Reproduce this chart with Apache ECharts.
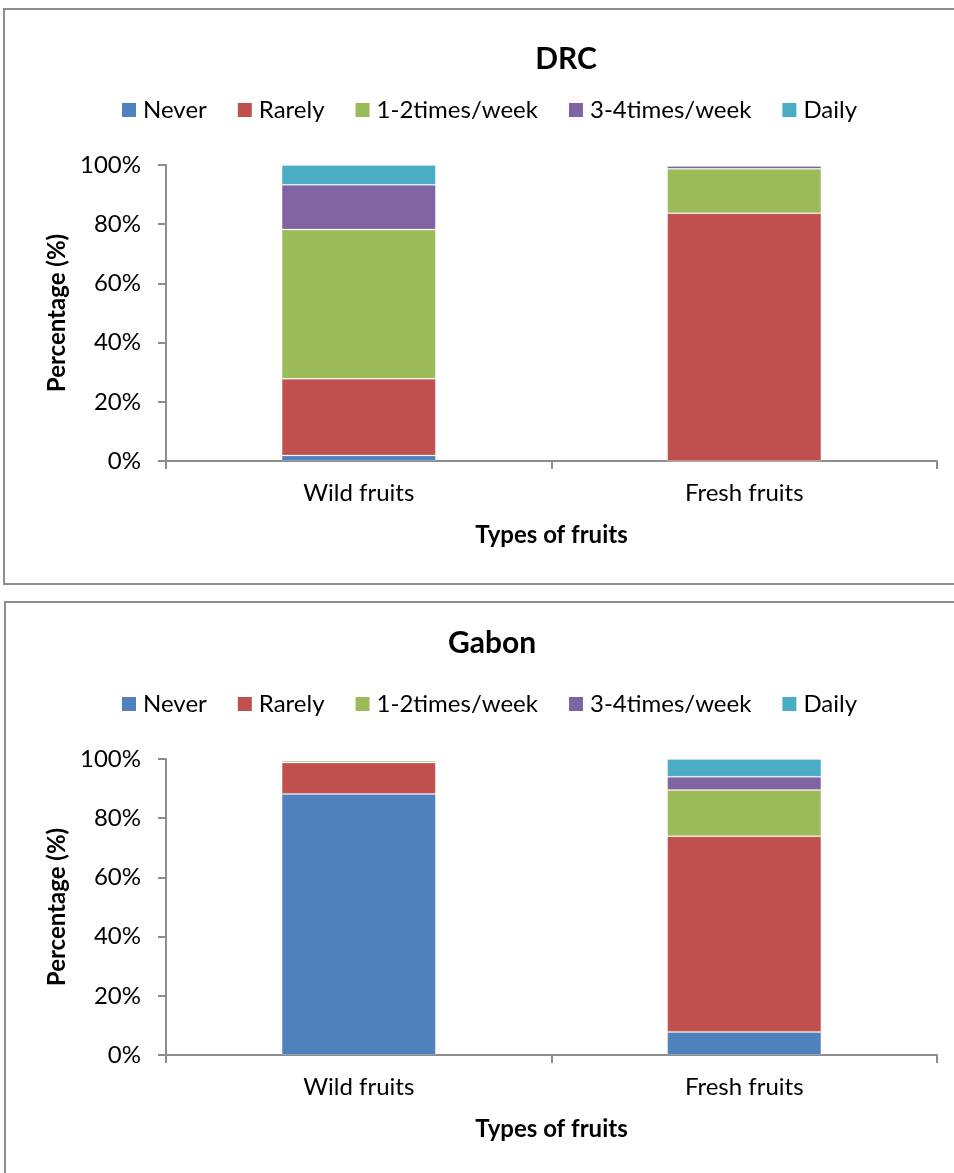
<!DOCTYPE html>
<html>
<head>
<meta charset="utf-8">
<script src="https://cdn.jsdelivr.net/npm/echarts@6/dist/echarts.min.js"></script>
<style>
  html, body { margin: 0; padding: 0; background: #fff; }
  #chart { width: 954px; height: 1173px; }
</style>
</head>
<body>
<div id="chart"></div>
<script>
// Frequency of fruit consumption, % of respondents per fruit type
const categories = ['Wild fruits', 'Fresh fruits'];
const frequencies = ['Never', 'Rarely', '1-2times/week', '3-4times/week', 'Daily'];
const colors = ['#4F81BD', '#C0504D', '#9BBB59', '#8064A2', '#4BACC6'];
const yTicks = [0, 20, 40, 60, 80, 100];

// DRC: one array per frequency, values for [Wild, Fresh]
const drcNever = [1.9, 0];
const drcRarely = [25.9, 83.7];
const drcOnceTwice = [50.4, 15.0];
const drcThreeFour = [15.1, 1.0];
const drcDaily = [6.7, 0.3];

// Gabon
const gabNever = [88.2, 7.8];
const gabRarely = [10.6, 66.1];
const gabOnceTwice = [0.6, 15.6];
const gabThreeFour = [0.3, 4.5];
const gabDaily = [0.3, 6.0];

const drcSeries = [drcNever, drcRarely, drcOnceTwice, drcThreeFour, drcDaily];
const gabSeries = [gabNever, gabRarely, gabOnceTwice, gabThreeFour, gabDaily];

const FONT = 'Lato';
const AXIS_GREY = '#8c8c8c';

const panels = [
  { title: 'DRC', titleX: 561, titleY: 39, legendY: 98, gridTop: 165, data: drcSeries, stack: 'drc' },
  { title: 'Gabon', titleX: 487, titleY: 623, legendY: 692, gridTop: 759, data: gabSeries, stack: 'gabon' }
];

const option = {
  animation: false,
  backgroundColor: '#fff',
  textStyle: { fontFamily: FONT },
  graphic: [
    { type: 'rect', shape: { x: 4, y: 9, width: 1000, height: 575 },
      style: { fill: 'none', stroke: AXIS_GREY, lineWidth: 2 } },
    { type: 'rect', shape: { x: 5, y: 602, width: 1000, height: 700 },
      style: { fill: 'none', stroke: AXIS_GREY, lineWidth: 2 } }
  ],
  title: panels.map(p => ({
    text: p.title,
    left: p.titleX,
    top: p.titleY,
    textAlign: 'center',
    textStyle: { fontFamily: FONT, fontWeight: 'bold', fontSize: 30, color: '#000' }
  })),
  legend: panels.map(p => ({
    data: frequencies,
    left: 122,
    top: p.legendY,
    padding: 0,
    itemWidth: 14,
    itemHeight: 14,
    itemGap: 31,
    icon: 'rect',
    itemStyle: { borderWidth: 0 },
    textStyle: { fontFamily: FONT, fontSize: 24, color: '#000', padding: [0, 0, 0, 2] }
  })),
  grid: panels.map(p => ({ left: 166, width: 771, top: p.gridTop, height: 296 })),
  xAxis: panels.map((p, i) => ({
    type: 'category',
    gridIndex: i,
    data: categories,
    name: 'Types of fruits',
    nameLocation: 'middle',
    nameGap: 62,
    nameTextStyle: { fontFamily: FONT, fontWeight: 'bold', fontSize: 24, color: '#000' },
    axisLine: { lineStyle: { color: AXIS_GREY, width: 2 } },
    axisTick: { show: true, alignWithLabel: false, length: 8, lineStyle: { color: AXIS_GREY, width: 2 } },
    axisLabel: { fontFamily: FONT, fontSize: 24, color: '#000', margin: 20 }
  })),
  yAxis: panels.map((p, i) => ({
    type: 'value',
    gridIndex: i,
    min: yTicks[0],
    max: yTicks[yTicks.length - 1],
    interval: yTicks[1] - yTicks[0],
    name: 'Percentage (%)',
    nameLocation: 'middle',
    nameGap: 96,
    nameRotate: 90,
    nameTextStyle: { fontFamily: FONT, fontWeight: 'bold', fontSize: 24, color: '#000' },
    axisLine: { show: true, lineStyle: { color: AXIS_GREY, width: 2 } },
    axisTick: { show: true, length: 8, lineStyle: { color: AXIS_GREY, width: 2 } },
    splitLine: { show: false },
    axisLabel: { fontFamily: FONT, fontSize: 24, color: '#000', margin: 25, formatter: '{value}%' }
  })),
  series: []
};

panels.forEach((p, gi) => {
  frequencies.forEach((name, k) => {
    option.series.push({
      type: 'bar',
      name: name,
      xAxisIndex: gi,
      yAxisIndex: gi,
      stack: p.stack,
      barWidth: '40%',
      data: p.data[k],
      itemStyle: { color: colors[k], borderColor: 'rgba(255,255,255,0.22)', borderWidth: 1 }
    });
  });
});

const chart = echarts.init(document.getElementById('chart'), null, { renderer: 'canvas' });
chart.setOption(option);
</script>
</body>
</html>
